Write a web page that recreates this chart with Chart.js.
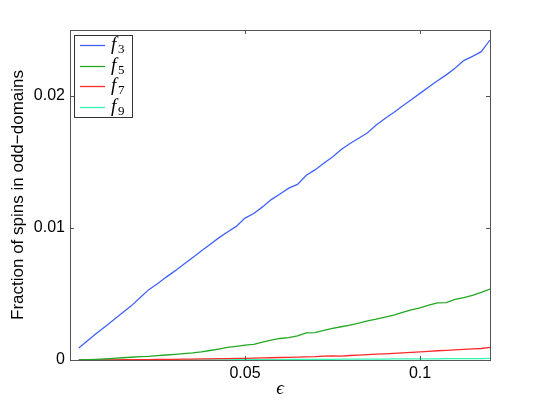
<!DOCTYPE html>
<html>
<head>
<meta charset="utf-8">
<script src="https://cdn.jsdelivr.net/npm/chart.js@4/dist/chart.umd.min.js"></script>
<style>
html,body{margin:0;padding:0;background:#fff;}
#c{display:block;}
</style>
</head>
<body>
<canvas id="c" width="540" height="405"></canvas>
<script>
// ---- data ----
const epsilon = [0.0025,0.005,0.0075,0.01,0.0125,0.015,0.0175,0.02,0.0225,0.025,
  0.0275,0.03,0.0325,0.035,0.0375,0.04,0.0425,0.045,0.0475,0.05,
  0.0525,0.055,0.0575,0.06,0.0625,0.065,0.0675,0.07,0.0725,0.075,
  0.0775,0.08,0.0825,0.085,0.0875,0.09,0.0925,0.095,0.0975,0.1,
  0.1025,0.105,0.1075,0.11,0.1125,0.115,0.1175,0.12];
const f3 = [0.00090,0.00145,0.00200,0.00252,0.00305,0.00358,0.00410,0.00472,0.00533,0.00578,
  0.00628,0.00675,0.00725,0.00775,0.00826,0.00875,0.00925,0.00970,0.01012,0.01075,
  0.01110,0.01160,0.01215,0.01258,0.01302,0.01330,0.01400,0.01440,0.01490,0.01538,
  0.01595,0.01640,0.01680,0.01722,0.01780,0.01830,0.01875,0.01925,0.01972,0.02020,
  0.02068,0.02115,0.02160,0.02210,0.02268,0.02300,0.02336,0.02424];
const f5 = [0,0.00002,0.00005,0.00009,0.00013,0.00017,0.00021,0.00025,0.00028,0.00033,
  0.00038,0.00043,0.00048,0.00054,0.00062,0.00072,0.00083,0.00095,0.00104,0.00113,
  0.00119,0.00135,0.00150,0.00163,0.00170,0.00182,0.00206,0.00208,0.00225,0.00240,
  0.00252,0.00265,0.00280,0.00297,0.00310,0.00325,0.00340,0.00360,0.00380,0.00395,
  0.00415,0.00433,0.00435,0.00460,0.00473,0.00490,0.00512,0.00538];
const f7 = [0,0,0,0.00001,0.00001,0.00002,0.00002,0.00003,0.00003,0.00004,
  0.00005,0.00005,0.00006,0.00007,0.00008,0.00009,0.00010,0.00011,0.00012,0.00013,
  0.00014,0.00016,0.00017,0.00019,0.00020,0.00022,0.00024,0.00025,0.00030,0.00031,
  0.00030,0.00034,0.00037,0.00040,0.00044,0.00047,0.00050,0.00054,0.00058,0.00062,
  0.00066,0.00070,0.00073,0.00076,0.00080,0.00084,0.00087,0.00095];
const f9 = [0,0,0,0,0,0,0,0,0,0,
  0,0,0,0,0,0,0.00001,0.00001,0.00002,0.00002,
  0.00002,0.00003,0.00003,0.00003,0.00004,0.00004,0.00004,0.00005,0.00005,0.00005,
  0.00006,0.00006,0.00006,0.00007,0.00007,0.00007,0.00008,0.00008,0.00008,0.00009,
  0.00009,0.00009,0.00010,0.00010,0.00010,0.00011,0.00011,0.00012];
const seriesNames = ["3","5","7","9"];  // subscripts of f
const xTicks = [0.05, 0.1];
const yTicks = [0, 0.01, 0.02];
const xTickLabels = ["0.05", "0.1"];
const yTickLabels = ["0", "0.01", "0.02"];

const colors = ["#3f62ff", "#22a822", "#ff2a2a", "#33f5b0"];
const allSeries = [f3, f5, f7, f9];

const datasets = allSeries.map((s, i) => ({
  label: "f" + seriesNames[i],
  sub: seriesNames[i],
  data: epsilon.map((x, j) => ({x: x, y: s[j]})),
  borderColor: colors[i],
  backgroundColor: colors[i],
  borderWidth: 1.3,
  pointRadius: 0,
  showLine: true,
  tension: 0,
  fill: false
}));

const boxPlugin = {
  id: 'matlabBox',
  afterDatasetsDraw(chart) {
    const ctx = chart.ctx, a = chart.chartArea;
    const xs = chart.scales.x, ys = chart.scales.y;
    ctx.save();
    ctx.strokeStyle = '#555';
    ctx.lineWidth = 1;
    ctx.strokeRect(Math.round(a.left) + 0.5, Math.round(a.top) + 0.5,
      Math.round(a.right - a.left), Math.round(a.bottom - a.top));
    const tl = 4;
    ctx.beginPath();
    xTicks.forEach(v => {
      const p = Math.round(xs.getPixelForValue(v)) + 0.5;
      ctx.moveTo(p, a.bottom); ctx.lineTo(p, a.bottom - tl);
      ctx.moveTo(p, a.top); ctx.lineTo(p, a.top + tl);
    });
    yTicks.forEach(v => {
      const p = Math.round(ys.getPixelForValue(v)) + 0.5;
      ctx.moveTo(a.left, p); ctx.lineTo(a.left + tl, p);
      ctx.moveTo(a.right, p); ctx.lineTo(a.right - tl, p);
    });
    ctx.stroke();

    // legend inside the axes, upper-left
    const lx = a.left + 4, ly = a.top + 5, lw = 58, rowH = 20.5;
    const lh = rowH * chart.data.datasets.length;
    ctx.fillStyle = '#fff';
    ctx.fillRect(lx, ly, lw, lh);
    ctx.strokeStyle = '#333';
    ctx.strokeRect(Math.round(lx) + 0.5, Math.round(ly) + 0.5, lw, Math.round(lh));
    chart.data.datasets.forEach((d, i) => {
      const cy = ly + rowH * (i + 0.5);
      ctx.strokeStyle = d.borderColor;
      ctx.lineWidth = 1.3;
      ctx.beginPath();
      ctx.moveTo(lx + 6, Math.round(cy) + 0.5);
      ctx.lineTo(lx + 31, Math.round(cy) + 0.5);
      ctx.stroke();
      ctx.fillStyle = '#000';
      ctx.textBaseline = 'alphabetic';
      ctx.textAlign = 'left';
      ctx.font = 'italic 19px "Liberation Serif"';
      ctx.fillText('f', lx + 37, cy + 5);
      ctx.font = '13px "Liberation Serif"';
      ctx.fillText(d.sub, lx + 44, cy + 8);
    });
    ctx.restore();
  }
};

new Chart(document.getElementById('c'), {
  type: 'scatter',
  data: { datasets },
  options: {
    responsive: false,
    animation: false,
    devicePixelRatio: 1,
    layout: { padding: { top: 30, right: 50, left: 0, bottom: 0 } },
    plugins: { legend: { display: false }, tooltip: { enabled: false } },
    scales: {
      x: {
        type: 'linear', min: 0, max: 0.12,
        grid: { display: false, drawTicks: false },
        border: { display: false },
        afterBuildTicks: s => { s.ticks = xTicks.map(v => ({value: v})); },
        afterFit: s => { s.height = 45; },
        ticks: {
          padding: 4,
          color: '#000',
          font: { family: '"Liberation Sans"', size: 16 },
          callback: (v) => xTickLabels[xTicks.indexOf(v)] ?? ''
        },
        title: {
          display: true, text: 'ϵ', color: '#000',
          font: { family: '"Liberation Serif"', size: 19, style: 'italic' },
          padding: { top: 0, bottom: 5 }
        }
      },
      y: {
        type: 'linear', min: 0, max: 0.025,
        grid: { display: false, drawTicks: false },
        border: { display: false },
        afterBuildTicks: s => { s.ticks = yTicks.map(v => ({value: v})); },
        afterFit: s => { s.width = 70; },
        ticks: {
          padding: 5,
          color: '#000',
          font: { family: '"Liberation Sans"', size: 16 },
          callback: (v) => yTickLabels[yTicks.indexOf(v)] ?? ''
        },
        title: {
          display: true, text: 'Fraction of spins in odd\u2212domains', color: '#000',
          font: { family: '"Liberation Sans"', size: 17 },
          padding: { top: 8, bottom: 0 }
        }
      }
    }
  },
  plugins: [boxPlugin]
});
</script>
</body>
</html>
